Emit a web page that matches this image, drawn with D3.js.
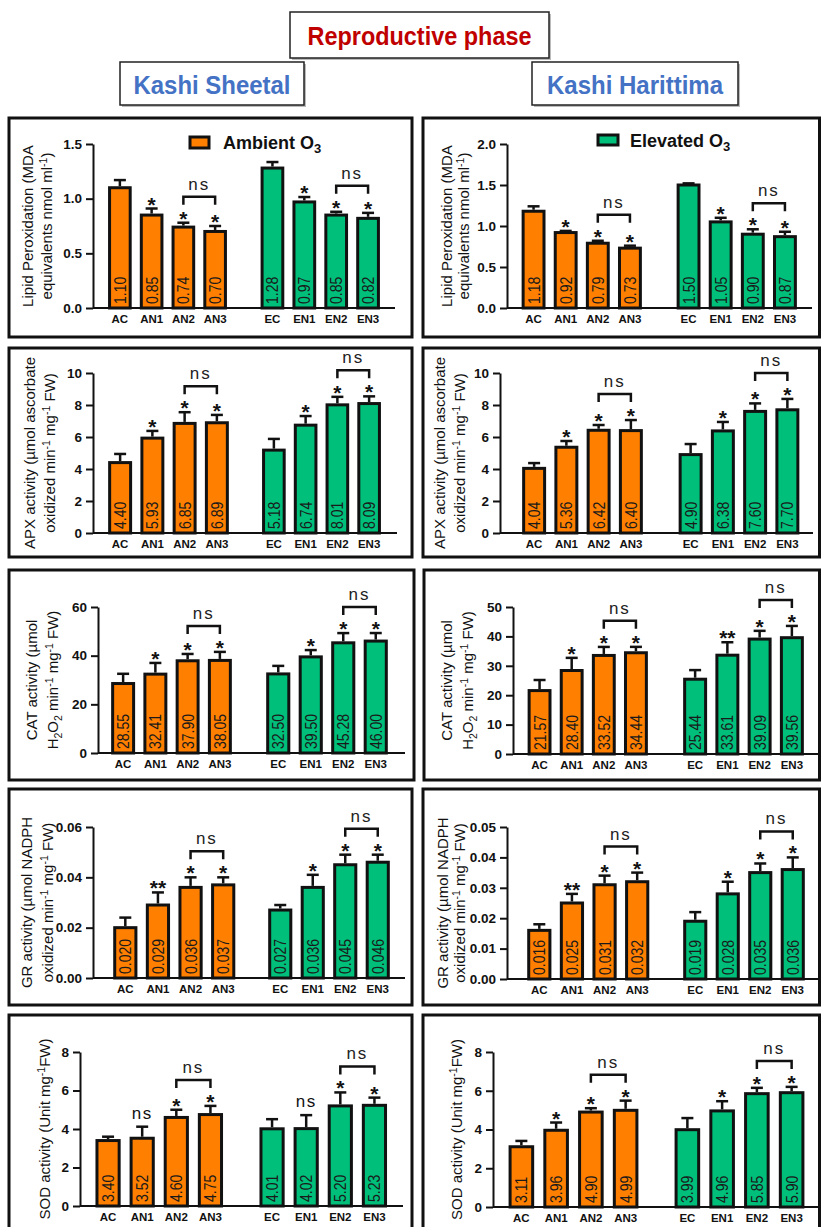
<!DOCTYPE html>
<html><head><meta charset="utf-8">
<script src="https://cdn.jsdelivr.net/npm/d3@7"></script>
<style>body{margin:0;background:#fff;} svg{display:block;}</style>
</head><body>
<svg id="chart" width="821" height="1227"></svg>
<script>
// ---------------- DATA ----------------
const categories = ["AC","AN1","AN2","AN3","EC","EN1","EN2","EN3"];
const groupAmbient = categories.slice(0,4);
const groupElevated = categories.slice(4);

// Kashi Sheetal (left column)
const lipidKS = [1.10,0.85,0.74,0.70,1.28,0.97,0.85,0.82];
const lipidKSErr = [0.07,0.06,0.04,0.05,0.055,0.045,0.03,0.05];
const apxKS = [4.40,5.93,6.85,6.89,5.18,6.74,8.01,8.09];
const apxKSErr = [0.54,0.45,0.70,0.49,0.70,0.57,0.50,0.45];
const catKS = [28.55,32.41,37.90,38.05,32.50,39.50,45.28,46.00];
const catKSErr = [4.0,4.6,2.8,3.5,3.3,2.8,4.0,3.3];
const grKS = [0.020,0.029,0.036,0.037,0.027,0.036,0.045,0.046];
const grKSErr = [0.004,0.005,0.004,0.003,0.002,0.005,0.004,0.003];
const sodKS = [3.40,3.52,4.60,4.75,4.01,4.02,5.20,5.23];
const sodKSErr = [0.20,0.60,0.40,0.45,0.50,0.70,0.70,0.40];

// Kashi Harittima (right column)
const lipidKH = [1.18,0.92,0.79,0.73,1.50,1.05,0.90,0.87];
const lipidKHErr = [0.06,0.02,0.03,0.03,0.02,0.05,0.06,0.06];
const apxKH = [4.04,5.36,6.42,6.40,4.90,6.38,7.60,7.70];
const apxKHErr = [0.33,0.39,0.33,0.66,0.66,0.56,0.50,0.68];
const catKH = [21.57,28.40,33.52,34.44,25.44,33.61,39.09,39.56];
const catKHErr = [3.6,4.3,2.9,2.0,3.1,4.4,2.8,4.0];
const grKH = [0.016,0.025,0.031,0.032,0.019,0.028,0.035,0.036];
const grKHErr = [0.002,0.003,0.003,0.003,0.003,0.004,0.003,0.004];
const sodKH = [3.11,3.96,4.90,4.99,3.99,4.96,5.85,5.90];
const sodKHErr = [0.30,0.40,0.20,0.50,0.60,0.50,0.30,0.30];

// significance marks above bars
const sigStandard = ["","*","*","*","","*","*","*"];
const sigCatKH = ["","*","*","*","","**","*","*"];
const sigGR = ["","**","*","*","","*","*","*"];
const sigSodKS = ["","ns","*","*","","ns","*","*"];
const bracketPairs = [["AN2","AN3"],["EN2","EN3"]];

// tick labels
const lipidTicksKS = [0,0.5,1.0,1.5];
const lipidTicksKH = [0,0.5,1.0,1.5,2.0];
const apxTicks = [0,2,4,6,8,10];
const catTicksKS = [0,20,40,60];
const catTicksKH = [0,10,20,30,40,50];
const grTicksKS = [0,0.02,0.04,0.06];
const grTicksKH = [0,0.01,0.02,0.03,0.04,0.05];
const sodTicks = [0,2,4,6,8];

// texts
const headerTitle = "Reproductive phase";
const cultivarNames = ["Kashi Sheetal","Kashi Harittima"];
const legendNames = ["Ambient O","Elevated O"];
const lipidLabel = [[["Lipid Peroxidation (MDA"]],[["equivalents nmol ml"],["-1","sup"],[")"]]];
const apxLabel = [[["APX activity (µmol ascorbate"]],[["oxidized min"],["-1","sup"],[" mg"],["-1","sup"],[" FW)"]]];
const catLabel = [[["CAT activity (µmol"]],[["H"],["2","sub"],["O"],["2","sub"],[" min"],["-1","sup"],[" mg"],["-1","sup"],[" FW)"]]];
const grLabel = [[["GR activity (µmol NADPH"]],[["oxidized min"],["-1","sup"],[" mg"],["-1","sup"],[" FW)"]]];
const sodLabel = [[["SOD activity (Unit mg"],["-1","sup"],["FW)"]]];

// ---------------- STYLE / LAYOUT ----------------
const ORANGE = "#ff7f00", GREEN = "#00bf7a";
const FONT = "'Liberation Sans', Arial, sans-serif";

const panels = [
  {box:[9,118,403,219], axisX:93, xEnd:395, y0:308, yTop:144, rA:[104,231], rE:[256.5,384],
   ticks:lipidTicksKS, fmt:".1f", dec:2, values:lipidKS, errs:lipidKSErr, sig:sigStandard, label:lipidLabel, off:[65,46],
   legend:{x:190,y:137,w:19,h:11,tx:223,ty:149,name:legendNames[0],color:ORANGE}},
  {box:[423,118,396.5,219], axisX:507, xEnd:812, y0:308, yTop:144, rA:[517.5,646], rE:[672.5,801],
   ticks:lipidTicksKH, fmt:".1f", dec:2, values:lipidKH, errs:lipidKHErr, sig:sigStandard, label:lipidLabel, off:[60,43],
   legend:{x:598,y:135,w:20,h:10,tx:630,ty:147,name:legendNames[1],color:GREEN}},
  {box:[9,348,403,209], axisX:93, xEnd:397, y0:533, yTop:373, rA:[104,233], rE:[258,385],
   ticks:apxTicks, fmt:"d", dec:2, values:apxKS, errs:apxKSErr, sig:sigStandard, label:apxLabel, off:[63,43]},
  {box:[423,348,396.5,209], axisX:500, xEnd:813, y0:533, yTop:373, rA:[518,647], rE:[674.5,803.5],
   ticks:apxTicks, fmt:"d", dec:2, values:apxKH, errs:apxKHErr, sig:sigStandard, label:apxLabel, off:[60,40]},
  {box:[9,570,405,210], axisX:98, xEnd:405, y0:753, yTop:607, rA:[107,236], rE:[262,392],
   ticks:catTicksKS, fmt:"d", dec:2, values:catKS, errs:catKSErr, sig:sigStandard, label:catLabel, off:[66,45]},
  {box:[424,570,395.5,210], axisX:513, xEnd:818, y0:754, yTop:607, rA:[523.5,652], rE:[679,808],
   ticks:catTicksKH, fmt:"d", dec:2, values:catKH, errs:catKHErr, sig:sigCatKH, label:catLabel, off:[66,45]},
  {box:[9,789,403,216], axisX:93, xEnd:405, y0:978, yTop:827, rA:[109,239.5], rE:[264,394],
   ticks:grTicksKS, fmt:".2f", dec:3, values:grKS, errs:grKSErr, sig:sigGR, label:grLabel, off:[66,45]},
  {box:[423,789,396.5,216], axisX:507, xEnd:818, y0:979, yTop:827, rA:[523,653.5], rE:[679,809],
   ticks:grTicksKH, fmt:".2f", dec:3, values:grKH, errs:grKHErr, sig:sigGR, label:grLabel, off:[64,47]},
  {box:[9,1015,403,230], axisX:80, xEnd:403, y0:1206, yTop:1052, rA:[91,227.5], rE:[255,391.5],
   ticks:sodTicks, fmt:"d", dec:2, values:sodKS, errs:sodKSErr, sig:sigSodKS, label:sodLabel, off:[35]},
  {box:[423,1015,396.5,230], axisX:493, xEnd:818, y0:1207, yTop:1052, rA:[504,643], rE:[670,809],
   ticks:sodTicks, fmt:"d", dec:2, values:sodKH, errs:sodKHErr, sig:sigStandard, label:sodLabel, off:[36]}
];

const svg = d3.select("#chart");
svg.append("rect").attr("width",821).attr("height",1227).attr("fill","#fff");

// ---------------- HEADER ----------------
function headerBox(x,y,w,h,txt,color,len,baseline){
  svg.append("rect").attr("x",x+2).attr("y",y+2).attr("width",w).attr("height",h).attr("fill","#bbb");
  svg.append("rect").attr("x",x).attr("y",y).attr("width",w).attr("height",h)
    .attr("fill","#fff").attr("stroke","#222").attr("stroke-width",1.5);
  svg.append("text").attr("x",x+w/2).attr("y",baseline).attr("text-anchor","middle")
    .attr("font-family",FONT).attr("font-weight","bold").attr("font-size",26).attr("fill",color)
    .attr("textLength",len).attr("lengthAdjust","spacingAndGlyphs").text(txt);
}
headerBox(290,12,259,46,headerTitle,"#c00000",224,45);
headerBox(120,62,184,43,cultivarNames[0],"#4472c4",157,94);
headerBox(532,62,206,43,cultivarNames[1],"#4472c4",176,94);

// ---------------- PANELS ----------------
function drawLabelLine(g, segs, x, y){
  const t = g.append("text").attr("transform",`translate(${x},${y}) rotate(-90)`)
    .attr("text-anchor","middle").attr("font-family",FONT).attr("font-size",15).attr("fill","#111");
  let shift = 0;
  segs.forEach(([txt,kind])=>{
    const target = kind==="sup" ? -5.5 : kind==="sub" ? 4 : 0;
    t.append("tspan").attr("dy", target-shift).attr("font-size", kind ? 10.5 : 15).text(txt);
    shift = target;
  });
}

panels.forEach(p=>{
  const g = svg.append("g");
  g.append("rect").attr("x",p.box[0]).attr("y",p.box[1]).attr("width",p.box[2]).attr("height",p.box[3])
    .attr("fill","none").attr("stroke","#111").attr("stroke-width",3);

  const y = d3.scaleLinear().domain([0,d3.max(p.ticks)]).range([p.y0,p.yTop]);
  const xA = d3.scaleBand().domain(groupAmbient).range(p.rA).paddingInner(0.35).paddingOuter(0.175);
  const xE = d3.scaleBand().domain(groupElevated).range(p.rE).paddingInner(0.35).paddingOuter(0.175);
  const rows = categories.map((c,i)=>({c, v:p.values[i], e:p.errs[i], s:p.sig[i], amb:i<4}));
  const sc = d => d.amb ? xA : xE;
  const cx = d => sc(d).call(null,d.c) + sc(d).bandwidth()/2;

  // bars
  g.selectAll("rect.bar").data(rows).join("rect").attr("class","bar")
    .attr("x",d=>sc(d)(d.c)).attr("width",d=>sc(d).bandwidth())
    .attr("y",d=>y(d.v)).attr("height",d=>p.y0-y(d.v))
    .attr("fill",d=>d.amb?ORANGE:GREEN).attr("stroke","#111").attr("stroke-width",3);

  // error bars
  g.selectAll("line.err").data(rows).join("line").attr("class","err")
    .attr("x1",cx).attr("x2",cx).attr("y1",d=>y(d.v)-1.5).attr("y2",d=>y(d.v+d.e))
    .attr("stroke","#111").attr("stroke-width",2.5);
  g.selectAll("line.cap").data(rows).join("line").attr("class","cap")
    .attr("x1",d=>cx(d)-6).attr("x2",d=>cx(d)+6).attr("y1",d=>y(d.v+d.e)).attr("y2",d=>y(d.v+d.e))
    .attr("stroke","#111").attr("stroke-width",2.5);

  // value labels inside bars
  g.selectAll("text.val").data(rows).join("text").attr("class","val")
    .attr("transform",d=>`translate(${cx(d)},${p.y0-4}) rotate(-90) scale(0.85,1)`)
    .attr("dy","0.36em").attr("font-family",FONT).attr("font-size",16.5).attr("fill","#1a1a1a")
    .text(d=>d3.format(`.${p.dec}f`)(d.v));

  // significance marks
  g.selectAll("text.sig").data(rows.filter(d=>d.s)).join("text").attr("class","sig")
    .attr("x",cx).attr("y",d=>d.s==="ns" ? y(d.v+d.e)-8 : y(d.v+d.e)+3)
    .attr("text-anchor","middle").attr("font-family",FONT)
    .attr("font-weight",d=>d.s==="ns"?"normal":"bold")
    .attr("font-size",d=>d.s==="ns"?17:21).attr("letter-spacing",d=>d.s==="ns"?1.5:0)
    .attr("fill","#111").text(d=>d.s);

  // ns brackets
  bracketPairs.forEach(([a,b])=>{
    const ra = rows.find(r=>r.c===a), rb = rows.find(r=>r.c===b);
    const yb = Math.min(y(ra.v+ra.e), y(rb.v+rb.e)) - 26;
    g.append("path").attr("d",`M${cx(ra)},${yb+8}V${yb}H${cx(rb)}V${yb+8}`)
      .attr("fill","none").attr("stroke","#111").attr("stroke-width",2.5);
    g.append("text").attr("x",(cx(ra)+cx(rb))/2).attr("y",yb-7).attr("text-anchor","middle")
      .attr("font-family",FONT).attr("font-size",17).attr("letter-spacing",2).attr("fill","#222").text("ns");
  });

  // y axis
  const ya = g.append("g").attr("transform",`translate(${p.axisX},0)`)
    .call(d3.axisLeft(y).tickValues(p.ticks).tickFormat(d3.format(p.fmt)).tickSize(7).tickSizeOuter(0).tickPadding(4));
  ya.select(".domain").attr("stroke","#111").attr("stroke-width",2);
  ya.selectAll(".tick line").attr("stroke","#111").attr("stroke-width",2);
  ya.selectAll(".tick text").attr("font-family",FONT).attr("font-weight","bold").attr("font-size",13.5).attr("fill","#111");

  // x axis baseline + labels
  g.append("line").attr("x1",p.axisX).attr("x2",p.xEnd).attr("y1",p.y0).attr("y2",p.y0)
    .attr("stroke","#111").attr("stroke-width",2);
  [xA,xE].forEach(sx=>{
    const xa = g.append("g").attr("transform",`translate(0,${p.y0})`)
      .call(d3.axisBottom(sx).tickSize(0).tickPadding(7));
    xa.select(".domain").remove();
    xa.selectAll(".tick text").attr("font-family",FONT).attr("font-weight","bold").attr("font-size",11.5).attr("fill","#111");
  });

  // y label
  const cyMid = (p.y0+p.yTop)/2;
  p.label.forEach((segs,i)=> drawLabelLine(g, segs, p.axisX - p.off[i] + 5, cyMid));

  // legend
  if (p.legend){
    const L = p.legend;
    g.append("rect").attr("x",L.x).attr("y",L.y).attr("width",L.w).attr("height",L.h)
      .attr("fill",L.color).attr("stroke","#111").attr("stroke-width",3);
    const t = g.append("text").attr("x",L.tx).attr("y",L.ty).attr("font-family",FONT)
      .attr("font-weight","bold").attr("font-size",18).attr("fill","#111");
    t.append("tspan").text(L.name);
    t.append("tspan").attr("dy",4).attr("font-size",13).text("3");
  }
});
</script>
</body></html>
